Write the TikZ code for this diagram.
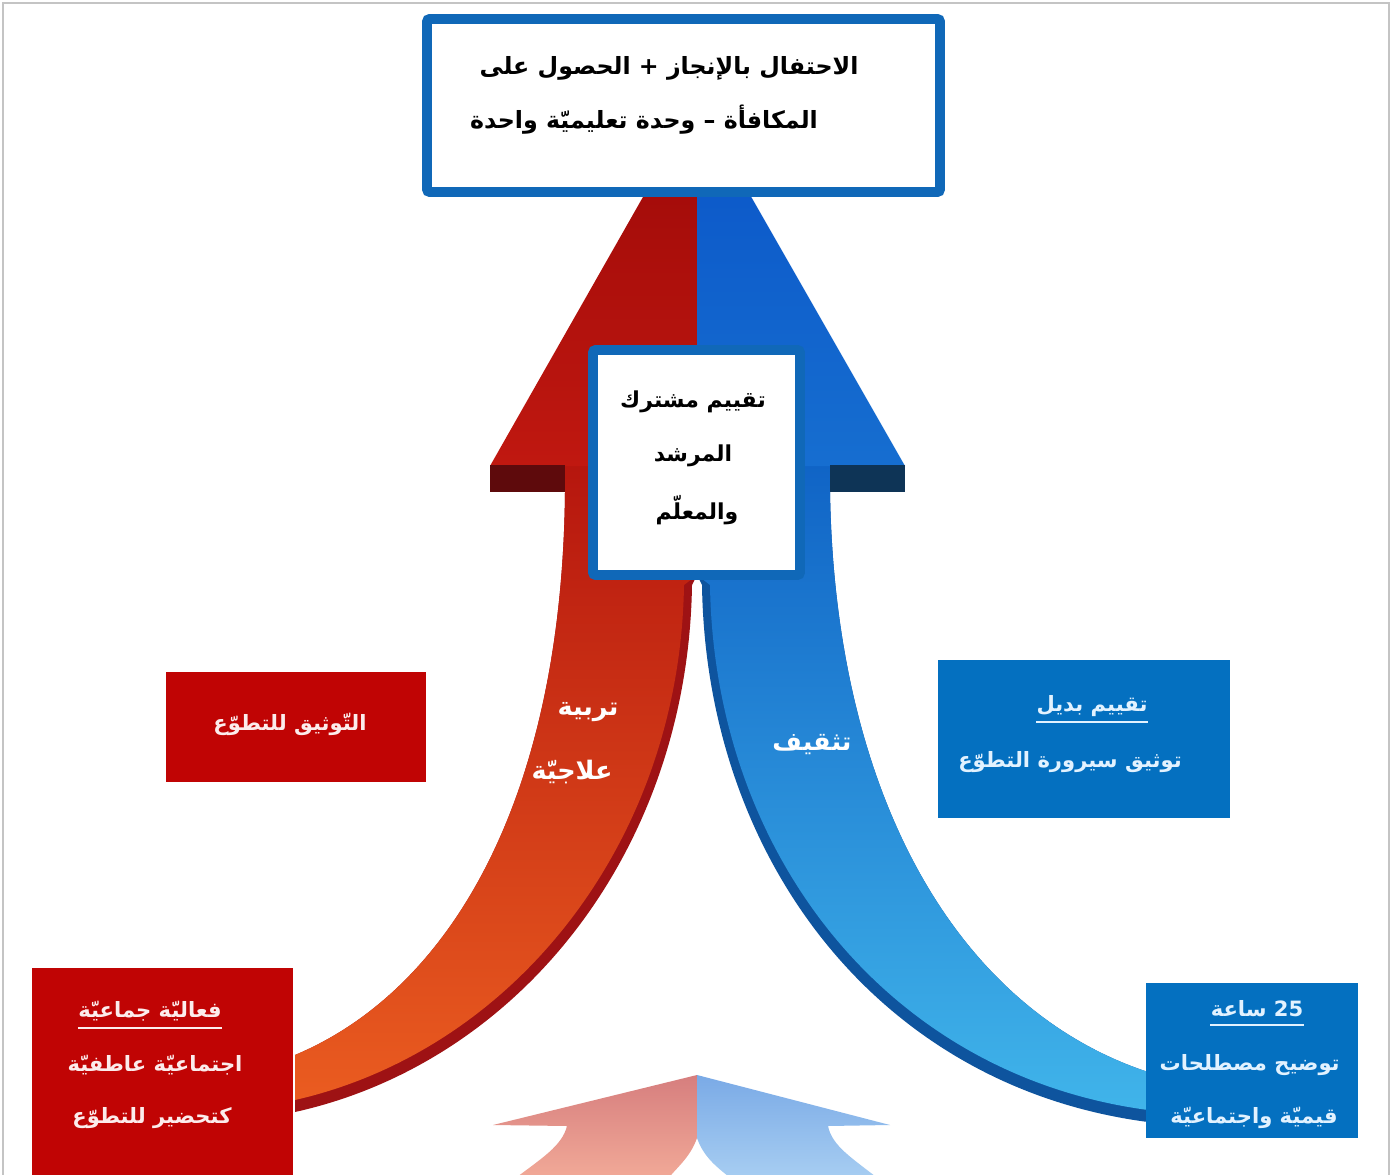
\documentclass[tikz,border=0pt]{standalone}
\usepackage{fontspec}
\usepackage{xcolor}
\usepackage{tikz}
\usetikzlibrary{
  positioning
}
\TeXXeTstate=1
\newfontfamily\arabicfont[Script=Arabic]{DejaVu Sans}
\newcommand{\artxt}[1]{{\arabicfont\bfseries\beginR #1\endR}}
\definecolor{FrameGray}{RGB}{196, 196, 196}
\definecolor{FrameBlue}{RGB}{16, 104, 184}
\definecolor{BoxRed}{RGB}{192, 4, 4}
\definecolor{BoxBlue}{RGB}{4, 112, 192}
\definecolor{HeadRed}{RGB}{156, 8, 8}
\definecolor{HeadRedLow}{RGB}{192, 24, 16}
\definecolor{ShadeRed}{RGB}{94, 10, 12}
\definecolor{HeadBlue}{RGB}{10, 84, 200}
\definecolor{HeadBlueLow}{RGB}{22, 110, 208}
\definecolor{ShadeBlue}{RGB}{14, 52, 86}
\definecolor{BandRedTop}{RGB}{182, 22, 14}
\definecolor{BandRedMid}{RGB}{218, 62, 22}
\definecolor{BandRedLow}{RGB}{234, 92, 32}
\definecolor{RimRed}{RGB}{158, 18, 20}
\definecolor{BandBlueTop}{RGB}{16, 100, 198}
\definecolor{BandBlueMid}{RGB}{34, 142, 218}
\definecolor{BandBlueLow}{RGB}{64, 180, 234}
\definecolor{RimBlue}{RGB}{14, 84, 158}
\definecolor{PaleRedTop}{RGB}{214, 126, 126}
\definecolor{PaleRedLow}{RGB}{242, 170, 152}
\definecolor{PaleBlueTop}{RGB}{122, 170, 230}
\definecolor{PaleBlueLow}{RGB}{168, 206, 242}
\definecolor{TextPink}{RGB}{252, 236, 236}
\definecolor{TextIce}{RGB}{226, 242, 255}
\tikzset{
    panel/.style={rectangle, inner sep=0pt},
    redpanel/.style={panel, fill=BoxRed},
    bluepanel/.style={panel, fill=BoxBlue},
    whitepanel/.style={panel, fill=white, draw=FrameBlue, line width=5.6pt, rounded corners=1.5pt},
    darktxt/.style={inner sep=0pt, text=black, font=\fontsize{13.5}{16}\selectfont},
    jointtxt/.style={inner sep=0pt, text=black, font=\fontsize{12.5}{15}\selectfont},
    pinktxt/.style={inner sep=0pt, text=TextPink, font=\fontsize{12}{15}\selectfont},
    icetxt/.style={inner sep=0pt, text=TextIce, font=\fontsize{12}{15}\selectfont},
    bandtxt/.style={inner sep=0pt, text=white, font=\fontsize{14.5}{17}\selectfont},
    rule/.style={line width=1.1pt}
}

\begin{document}
\begin{tikzpicture}[x=0.02cm, y=-0.02cm]
    \useasboundingbox (0,0) rectangle (1392,1175);
    \fill[white] (0,0) rectangle (1392,1175);
    \draw[FrameGray, line width=1.2pt] (3,3) rectangle (1389,1190);

    \shade[top color=PaleRedTop, bottom color=PaleRedLow]
        (697,1075) -- (697,1138) .. controls (690,1158) and (676,1168) .. (667,1180)
        -- (513,1180) .. controls (542,1158) and (562,1146) .. (567,1126)
        -- (493,1125) -- cycle;
    \shade[top color=PaleBlueTop, bottom color=PaleBlueLow]
        (697,1075) -- (697,1138) .. controls (704,1158) and (718,1168) .. (733,1180)
        -- (880,1180) .. controls (852,1158) and (832,1146) .. (828,1126)
        -- (890,1125) -- cycle;

    \fill[RimRed]
        (565,465) -- (697,465) -- (697,575) -- (692,585)
        .. controls (688,850) and (520,1062) .. (295,1112)
        -- (295,1055) .. controls (450,990) and (562,800) .. (565,492) -- cycle;
    \shade[top color=BandRedTop, middle color=BandRedMid, bottom color=BandRedLow]
        (565,465) -- (697,465) -- (697,575) -- (684,585)
        .. controls (680,842) and (514,1050) .. (295,1100)
        -- (295,1055) .. controls (450,990) and (562,800) .. (565,492) -- cycle;

    \fill[RimBlue]
        (697,465) -- (830,465) -- (830,492)
        .. controls (835,800) and (960,1010) .. (1148,1072)
        -- (1148,1122) .. controls (880,1087) and (706,860) .. (702,585)
        -- (697,575) -- cycle;
    \shade[top color=BandBlueTop, middle color=BandBlueMid, bottom color=BandBlueLow]
        (697,465) -- (830,465) -- (830,492)
        .. controls (835,800) and (960,1010) .. (1148,1072)
        -- (1148,1110) .. controls (886,1075) and (714,852) .. (710,585)
        -- (697,575) -- cycle;

    \shade[top color=HeadRed, bottom color=HeadRedLow]
        (697,102) -- (697,466) -- (490,466) -- cycle;
    \shade[top color=HeadBlue, bottom color=HeadBlueLow]
        (697,102) -- (905,466) -- (697,466) -- cycle;
    \fill[ShadeRed] (490,465) rectangle (565,492);
    \fill[ShadeBlue] (830,465) rectangle (905,492);

    \node[bandtxt] (careUp) at (588,712) {\artxt{تربية}};
    \node[bandtxt] (careLow) at (572,772) {\artxt{علاجيّة}};
    \node[bandtxt] (culture) at (812,745) {\artxt{تثقيف}};

    \node[whitepanel, minimum width=10.26cm, minimum height=3.46cm] (reward) at (683.5,105.5) {};
    \node[darktxt] (rewardA) at (669,68) {\artxt{الاحتفال  بالإنجاز +  الحصول على}};
    \node[darktxt] (rewardB) at (644,120) {\artxt{المكافأة  –  وحدة تعليميّة واحدة}};

    \node[whitepanel, minimum width=4.14cm, minimum height=4.5cm] (joint) at (696.5,462.5) {};
    \node[jointtxt] (jointA) at (693,402) {\artxt{تقييم مشترك}};
    \node[jointtxt] (jointB) at (693,456) {\artxt{المرشد}};
    \node[jointtxt] (jointC) at (697,510) {\artxt{والمعلّم}};

    \node[redpanel, minimum width=5.2cm, minimum height=2.2cm] (docBox) at (296,727) {};
    \node[pinktxt] (docTxt) at (290,724) {\artxt{التّوثيق للتطوّع}};

    \node[bluepanel, minimum width=5.84cm, minimum height=3.16cm] (altBox) at (1084,739) {};
    \node[icetxt] (altTitle) at (1092,706) {\artxt{تقييم بديل}};
    \node[icetxt] (altLine) at (1070,762) {\artxt{توثيق سيرورة التطوّع}};
    \draw[rule, TextIce] ([yshift=-3pt]altTitle.south west) -- ([yshift=-3pt]altTitle.south east);

    \node[redpanel, minimum width=5.22cm, minimum height=4.24cm] (groupBox) at (162.5,1074) {};
    \node[pinktxt] (groupTitle) at (150,1011) {\artxt{فعاليّة جماعيّة}};
    \node[pinktxt] (groupB) at (155,1065) {\artxt{اجتماعيّة عاطفيّة}};
    \node[pinktxt] (groupC) at (152,1118) {\artxt{كتحضير للتطوّع}};
    \draw[rule, TextPink] ([yshift=-4pt]groupTitle.south west) -- ([yshift=-4pt]groupTitle.south east);

    \node[bluepanel, minimum width=4.24cm, minimum height=3.1cm] (hoursBox) at (1252,1060.5) {};
    \node[icetxt] (hoursTitle) at (1257,1009) {\artxt{\beginL 25\endL{} ساعة}};
    \node[icetxt, anchor=east] (hoursB) at (1340,1065) {\artxt{توضيح مصطلحات}};
    \node[icetxt, anchor=east] (hoursC) at (1338,1118) {\artxt{قيميّة واجتماعيّة}};
    \draw[rule, TextIce] ([yshift=-4pt]hoursTitle.south west) -- ([yshift=-4pt]hoursTitle.south east);
\end{tikzpicture}
\end{document}
